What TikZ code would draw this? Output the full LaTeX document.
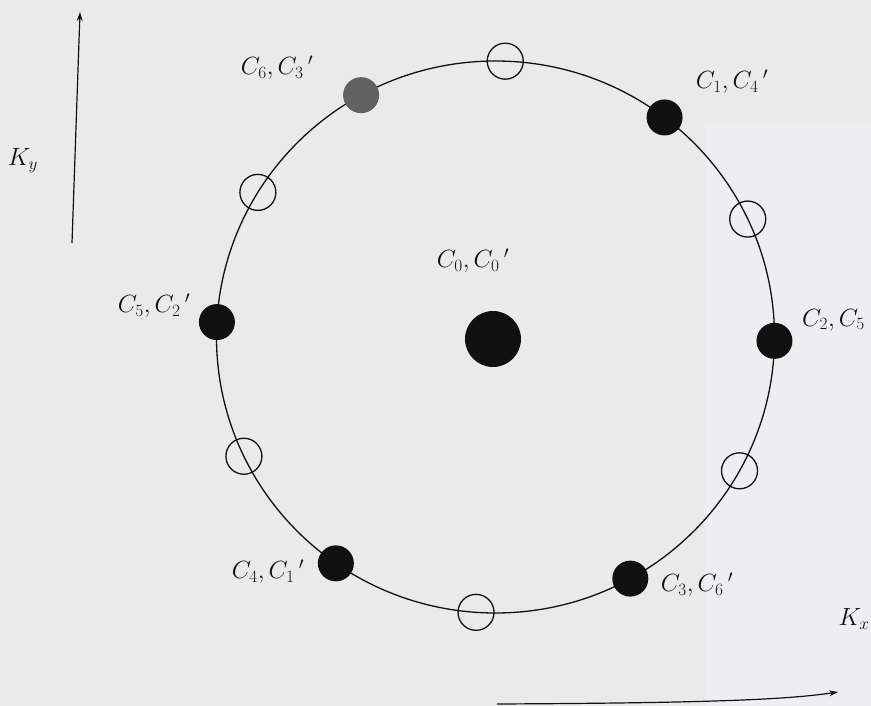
\documentclass[tikz,border=0pt]{standalone}
\usetikzlibrary{calc,arrows.meta}
\definecolor{bgmain}{HTML}{EAEAEA}
\definecolor{bgright}{HTML}{EEEEF2}
\definecolor{ink}{HTML}{111111}
\newcommand{\cpair}[2]{$C_{#1}{,}\,C_{#2}$}
\newcommand{\cpairp}[2]{$C_{#1}{,}\,C_{#2}{}\,'$}
\begin{document}
\begin{tikzpicture}[x=1pt,y=-1pt,
  dotfull/.style={circle,fill=ink,inner sep=0pt,minimum size=36pt},
  dotgray/.style={circle,fill=black!62,inner sep=0pt,minimum size=36pt},
  dotopen/.style={circle,draw=ink,line width=1.3pt,inner sep=0pt,minimum size=36pt},
  dotbig/.style={circle,fill=ink,inner sep=0pt,minimum size=56pt},
  lbl/.style={inner sep=0pt,text=ink,font=\fontsize{27}{31}\selectfont},
  axislbl/.style={inner sep=0pt,text=ink,font=\fontsize{24}{28}\selectfont},
  axisline/.style={draw=ink,line width=1.2pt,-{Stealth[length=9pt,width=6pt]}}]
\useasboundingbox (0,0) rectangle (871,706);
\fill[bgmain] (0,0) rectangle (871,706);
\fill[bgright] (705,123) rectangle (871,706);
\coordinate (c) at (495.5,337);
\draw[ink,line width=1.3pt] (c) ellipse [x radius=279pt, y radius=276pt];
% filled dots
\node[dotbig] (d0) at (493,339) {};
\node[dotfull] (d1) at ($(c)+(52.7:279pt and 276pt)$) {};
\node[dotfull] (d2) at ($(c)+(-0.8:279pt and 276pt)$) {};
\node[dotfull] (d3) at ($(c)+(-61.1:279pt and 276pt)$) {};
\node[dotfull] (d4) at ($(c)+(235.1:279pt and 276pt)$) {};
\node[dotfull] (d5) at ($(c)+(176.9:279pt and 276pt)$) {};
\node[dotgray] (d6) at ($(c)+(118.8:279pt and 276pt)$) {};
% open circles
\node[dotopen] (o1) at ($(c)+(88:279pt and 276pt)$) {};
\node[dotopen] (o2) at ($(c)+(25.3:279pt and 276pt)$) {};
\node[dotopen] (o3) at ($(c)+(-29:279pt and 276pt)$) {};
\node[dotopen] (o4) at ($(c)+(-94:279pt and 276pt)$) {};
\node[dotopen] (o5) at ($(c)+(205.6:279pt and 276pt)$) {};
\node[dotopen] (o6) at ($(c)+(148.4:279pt and 276pt)$) {};
% labels
\node[lbl] (l0) at (473,261) {\cpairp{0}{0}};
\node[lbl] (l1) at (732,82) {\cpairp{1}{4}};
\node[lbl,anchor=west] (l2) at (802,320) {\cpair{2}{5}};
\node[lbl] (l3) at (697,585) {\cpairp{3}{6}};
\node[lbl] (l4) at (268,572) {\cpairp{4}{1}};
\node[lbl] (l5) at (154,306) {\cpairp{5}{2}};
\node[lbl] (l6) at (277,68) {\cpairp{6}{3}};
% axes
\coordinate (kys) at (72,243);
\coordinate (kye) at (80,12);
\draw[axisline] (kys) -- (kye);
\node[axislbl] (ky) at (23,161) {$K_y$};
\coordinate (kxs) at (497,704);
\coordinate (kxe) at (838,692);
\draw[axisline] (kxs) .. controls (700,703) and (785,700) .. (kxe);
\node[axislbl] (kx) at (854,619) {$K_x$};
\end{tikzpicture}
\end{document}
